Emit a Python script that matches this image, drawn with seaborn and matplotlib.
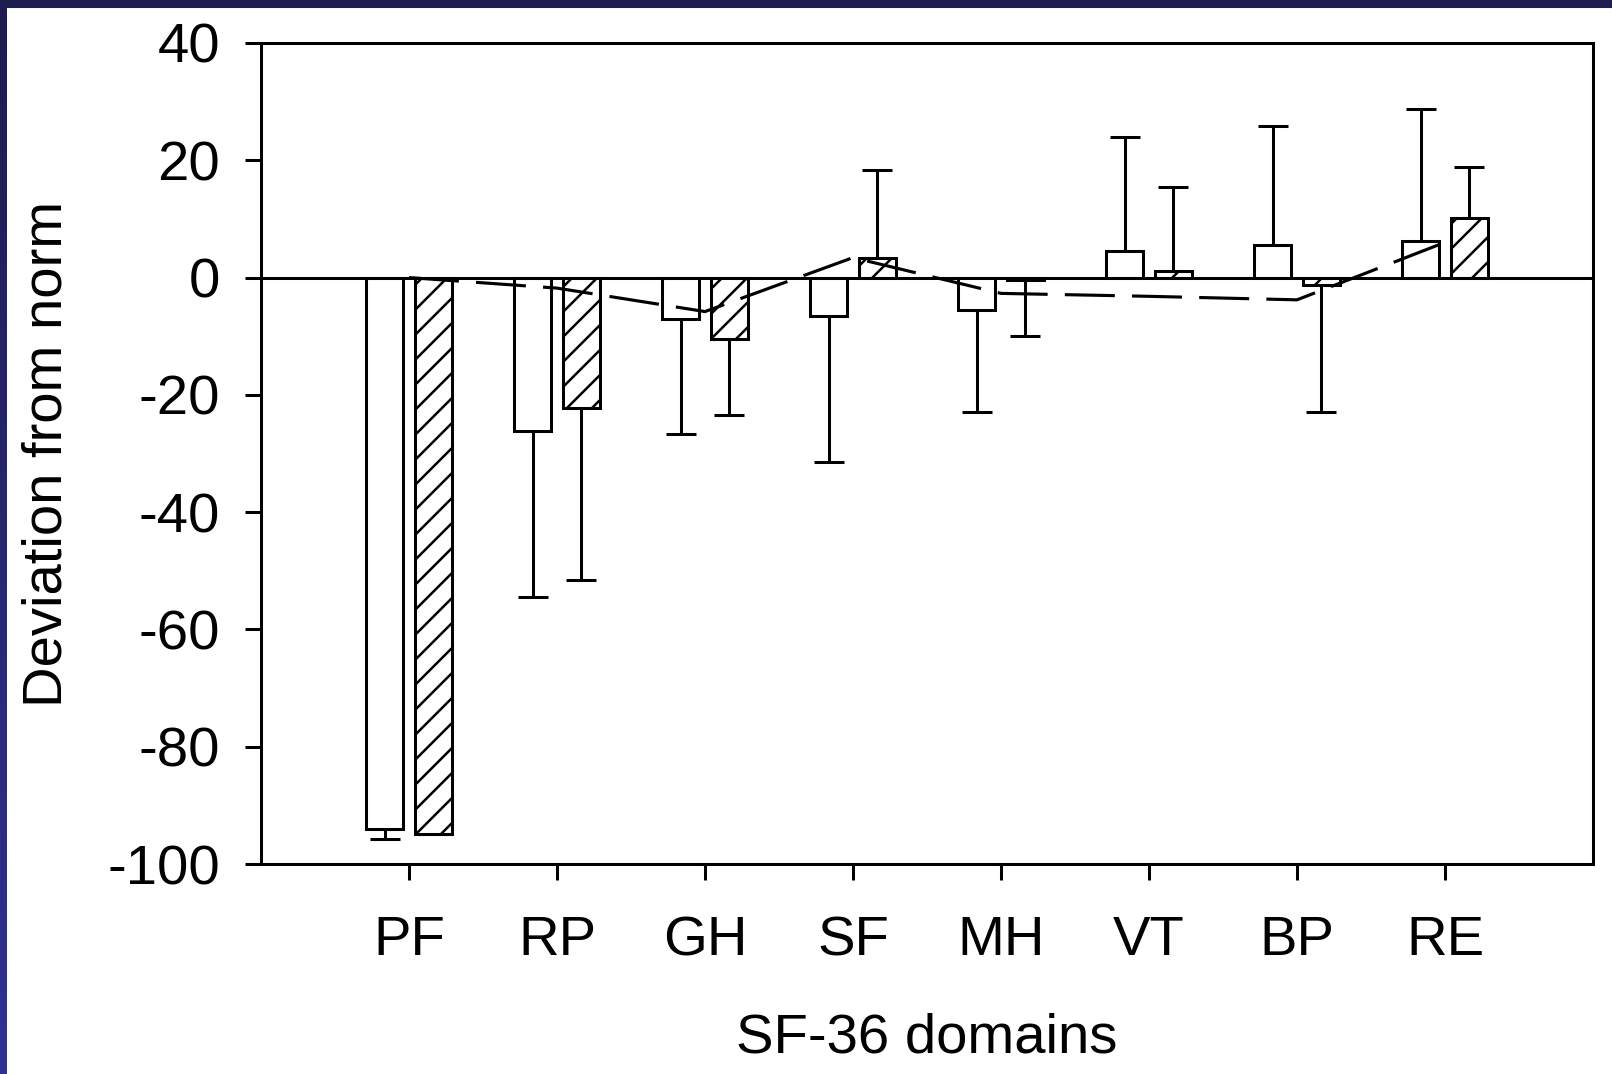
import numpy as np
import pandas as pd
import matplotlib.pyplot as plt
import seaborn as sns
from matplotlib.patches import Rectangle
from matplotlib.colors import LinearSegmentedColormap

# SF-36 domains and deviations from the population norm
domains = ["PF", "RP", "GH", "SF", "MH", "VT", "BP", "RE"]
open_vals = [-94.0, -26.1, -7.0, -6.6, -5.5, 4.6, 5.6, 6.2]
hatched_vals = [-94.9, -22.3, -10.4, 3.4, -0.4, 1.2, -1.2, 10.2]
open_err = [1.7, 28.4, 19.6, 24.9, 17.4, 19.4, 20.2, 22.5]
hatched_err = [0.0, 29.3, 13.0, 15.0, 9.6, 14.2, 21.7, 8.6]
dashed_vals = [0.0, -1.8, -5.8, 3.4, -2.7, -3.2, -3.8, 6.0]
y_ticks = [40, 20, 0, -20, -40, -60, -80, -100]

sns.set_theme(style="ticks")
plt.rcParams["font.family"] = ["Liberation Sans", "DejaVu Sans"]
plt.rcParams["axes.unicode_minus"] = False
plt.rcParams["hatch.linewidth"] = 1.2
plt.rcParams["text.color"] = "black"
plt.rcParams["axes.labelcolor"] = "black"

LW = 1.45
DPI = 150
fig = plt.figure(figsize=(1612 / DPI, 1074 / DPI), dpi=DPI)
ax = fig.add_axes([0.1619, 0.1955, 0.8263, 0.7645])

df = pd.DataFrame({
    "domain": domains * 2,
    "value": open_vals + hatched_vals,
    "group": ["open"] * len(domains) + ["hatched"] * len(domains),
})

sns.barplot(data=df, x="domain", y="value", hue="group", order=domains,
            hue_order=["open", "hatched"], palette=["white", "white"],
            saturation=1, edgecolor="black", linewidth=LW, width=0.66,
            gap=0.24, errorbar=None, legend=False, ax=ax)

for p in ax.containers[1]:
    p.set_hatch("//")

# one-sided error bars, pointing away from zero
for cont, vals, errs in [(ax.containers[0], open_vals, open_err),
                         (ax.containers[1], hatched_vals, hatched_err)]:
    xs = [p.get_x() + p.get_width() / 2 for p in cont]
    lower = [e if v < 0 else 0 for v, e in zip(vals, errs)]
    upper = [e if v >= 0 else 0 for v, e in zip(vals, errs)]
    ax.errorbar(xs, vals, yerr=[lower, upper], fmt="none", ecolor="black",
                elinewidth=LW, capsize=7, capthick=LW, zorder=0.5)

sns.lineplot(x=np.arange(len(domains)), y=dashed_vals, color="black",
             lw=1.5, ax=ax, zorder=3)
ax.lines[-1].set_dashes([16, 5.5])

ax.axhline(0, color="black", lw=LW, zorder=1.5)

ax.set_xlim(-1, len(domains))
ax.set_ylim(-100, 40)
ax.set_yticks(y_ticks)
ax.set_xticks(range(len(domains)))
ax.set_xticklabels(domains)

for s in ax.spines.values():
    s.set_visible(True)
    s.set_linewidth(LW)
    s.set_color("black")
ax.tick_params(axis="both", direction="out", length=7.5, width=LW,
               labelsize=27, colors="black")
ax.tick_params(axis="y", pad=12)
ax.tick_params(axis="x", pad=17)

ax.set_xlabel("SF-36 domains", fontsize=27, color="black")
ax.set_ylabel("Deviation from norm", fontsize=27, color="black")
ax.xaxis.set_label_coords(0.5, -0.181)
ax.yaxis.set_label_coords(-0.141, 0.5)

# navy frame on top and left edges
fig.add_artist(Rectangle((0, 1 - 7 / 1074), 1, 7 / 1074,
                         transform=fig.transFigure, color="#1e1b4e", zorder=10))
strip = fig.add_axes([0, 0, 7 / 1612, 1 - 7 / 1074])
strip.imshow(np.linspace(0, 1, 256).reshape(-1, 1), aspect="auto",
             cmap=LinearSegmentedColormap.from_list("frame", ["#1e1b4e", "#2f3291"]))
strip.set_axis_off()

fig.savefig("out.png", dpi=DPI)
